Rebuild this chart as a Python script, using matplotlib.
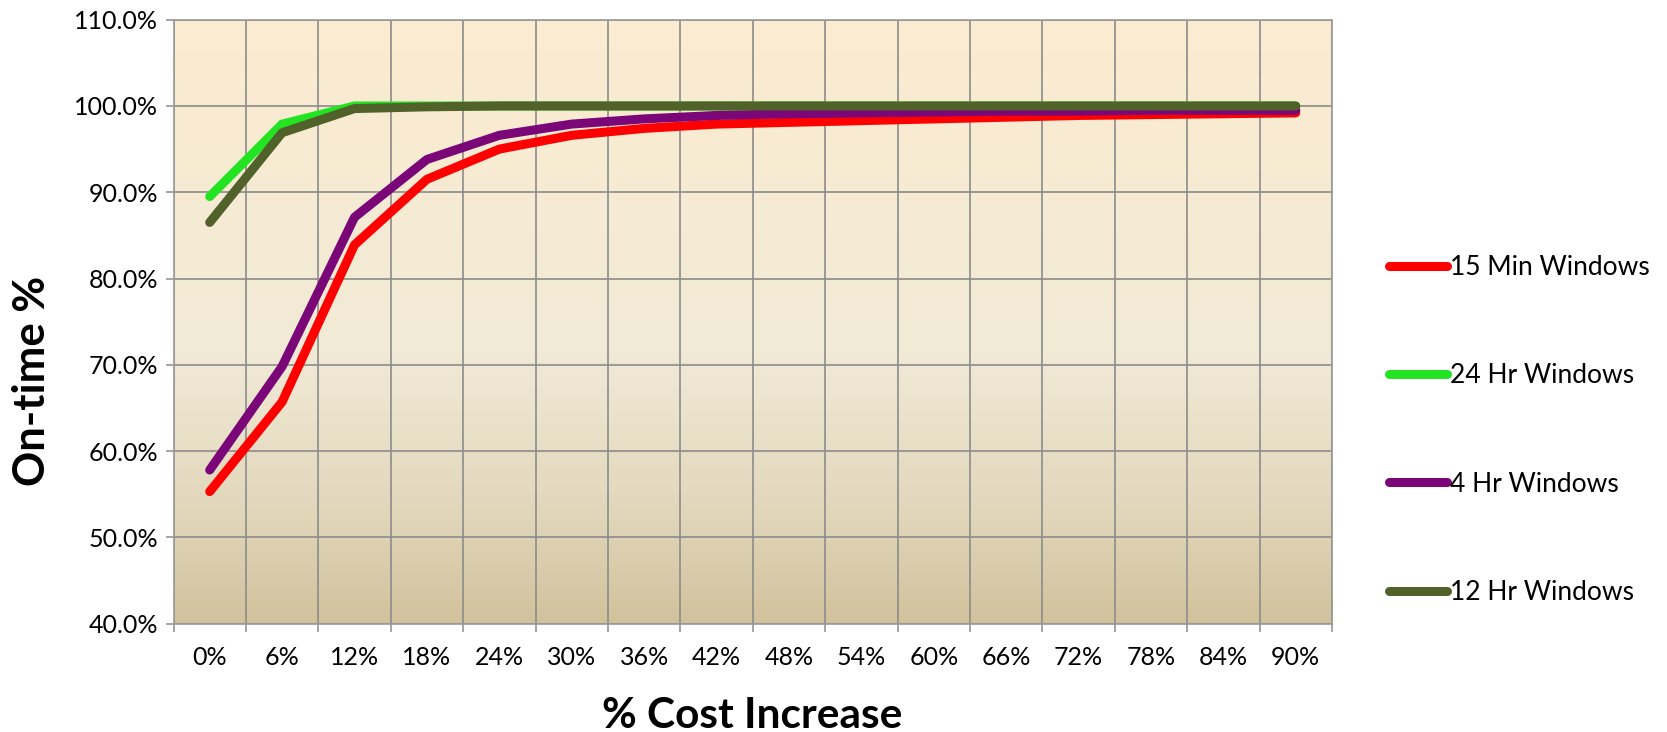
import numpy as np
import matplotlib
matplotlib.use("Agg")
import matplotlib.pyplot as plt
from matplotlib.ticker import PercentFormatter, FixedLocator, NullFormatter
from matplotlib.colors import LinearSegmentedColormap

# ---- data ----
cost_labels = ["0%", "6%", "12%", "18%", "24%", "30%", "36%", "42%",
               "48%", "54%", "60%", "66%", "72%", "78%", "84%", "90%"]
min15 = [55.3, 65.7, 83.9, 91.5, 95.0, 96.6, 97.4, 97.9,
         98.1, 98.3, 98.5, 98.7, 98.9, 99.0, 99.1, 99.2]
hr24 = [89.5, 97.9, 100.0, 100.0, 100.0, 100.0, 100.0, 100.0,
        100.0, 100.0, 100.0, 100.0, 100.0, 100.0, 100.0, 100.0]
hr4 = [57.8, 69.8, 87.1, 93.8, 96.6, 97.9, 98.5, 98.9,
       99.1, 99.2, 99.3, 99.4, 99.4, 99.5, 99.5, 99.5]
hr12 = [86.5, 96.9, 99.7, 99.9, 100.0, 100.0, 100.0, 100.0,
        100.0, 100.0, 100.0, 100.0, 100.0, 100.0, 100.0, 100.0]
series_names = ["15 Min Windows", "24 Hr Windows", "4 Hr Windows", "12 Hr Windows"]
series_values = [min15, hr24, hr4, hr12]
series_colors = ["#FF0000", "#23E423", "#7A0677", "#50622A"]

plt.rcParams["font.family"] = ["Lato", "DejaVu Sans"]

fig = plt.figure(figsize=(16.67, 7.32), dpi=100)
ax = fig.add_axes([173.5 / 1667, 1 - 623.6 / 732, (1332 - 173.5) / 1667, (623.6 - 19.7) / 732])

# gradient background
cmap = LinearSegmentedColormap.from_list(
    "bg",
    [(0.0, "#D2C29C"), (0.2, "#E3D8BD"), (0.45, "#F1EAD6"), (1.0, "#FCECD0")])
grad = np.linspace(0, 1, 256).reshape(-1, 1)
ax.imshow(grad, cmap=cmap, aspect="auto", origin="lower",
          extent=[0, 1, 0, 1], transform=ax.transAxes, zorder=0)

x = np.arange(len(cost_labels))
for name, vals, col in zip(series_names, series_values, series_colors):
    ax.plot(x, vals, color=col, lw=6.5, solid_capstyle="round",
            solid_joinstyle="round", label=name, zorder=3)

ax.set_xlim(-0.5, len(cost_labels) - 0.5)
ax.set_ylim(40, 110)
ax.set_yticks(np.arange(40, 111, 10))
ax.yaxis.set_major_formatter(PercentFormatter(xmax=100, decimals=1))

# category boundaries as major ticks / grid, labels on minor ticks at centres
ax.xaxis.set_major_locator(FixedLocator(np.arange(-0.5, len(cost_labels), 1.0)))
ax.xaxis.set_major_formatter(NullFormatter())
ax.set_xticks(x, minor=True)
ax.set_xticklabels(cost_labels, minor=True)
ax.tick_params(axis="x", which="minor", length=0, labelsize=18, pad=16)
ax.tick_params(axis="x", which="major", length=6, width=1.1, color="#8C8C8C")
ax.tick_params(axis="y", length=6, width=1.1, color="#8C8C8C", labelsize=18, pad=5)

ax.grid(True, which="major", color="#8C8C8C", lw=1.2, zorder=1)
ax.set_axisbelow(True)
for s in ax.spines.values():
    s.set_color("#9A9A9A")
    s.set_linewidth(1.2)

fig.text(0.4512, 1 - 728 / 732, "% Cost Increase", ha="center", va="baseline",
         fontsize=30.5, fontweight="bold")
fig.text(32 / 1667, 1 - 381 / 732, "On-time %", ha="center", va="center",
         rotation=90, fontsize=31.5, fontweight="bold")

leg = fig.legend(loc="center left", bbox_to_anchor=(1389 / 1667, 1 - 430 / 732),
                 frameon=False, fontsize=19, handlelength=2.2, handletextpad=0.12,
                 labelspacing=3.16, borderpad=0, borderaxespad=0)
for h in leg.get_lines():
    h.set_linewidth(6.5)
    h.set_solid_capstyle("round")

fig.savefig("out.png", dpi=100, facecolor="white")
